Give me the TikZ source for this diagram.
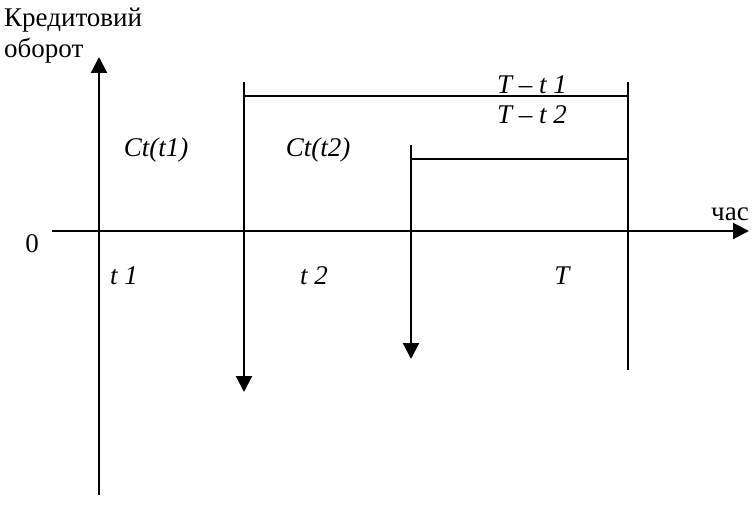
\documentclass[tikz,border=0pt]{standalone}
\usepackage{fontspec}
\setmainfont{Liberation Serif}
\usetikzlibrary{arrows.meta,positioning}

\begin{document}
\begin{tikzpicture}[
  x=1pt, y=-1pt,
  >={Triangle[width=16pt,length=16pt]},
  every node/.style={font=\fontsize{27}{31}\selectfont, inner sep=0pt},
  lbl/.style={anchor=base, font=\fontsize{27}{31}\selectfont\itshape},
  txt/.style={anchor=base west},
  ln/.style={line width=2.1pt},
  arr/.style={->, line width=2.1pt}
]
\useasboundingbox (0,0) rectangle (753,511);

% axes
\coordinate (ybot) at (99,495);
\coordinate (ytop) at (99,57);
\coordinate (xl) at (52,231);
\coordinate (xr) at (749,231);
\draw[arr] (ybot) -- (ytop);
\draw[arr] (xl) -- (xr);

\node[txt] (ylab1) at (4,27) {Кредитовий};
\node[txt] (ylab2) at (4,58) {оборот};
\node[anchor=base] (zero) at (32,252) {0};
\node[txt] (xlab) at (711,220) {час};

% time marks
\coordinate (a1) at (244,82);
\coordinate (a2) at (244,392);
\coordinate (b1) at (411,145);
\coordinate (b2) at (411,359);
\coordinate (c1) at (628,82);
\coordinate (c2) at (628,370);
\coordinate (h1) at (628,96);
\coordinate (h2) at (628,159);
\draw[arr] (a1) -- (a2);
\draw[arr] (b1) -- (b2);
\draw[ln] (c1) -- (c2);
\draw[ln] (a1 |- h1) -- (h1);
\draw[ln] (b1 |- h2) -- (h2);

\node[lbl] (ct1) at (156,156) {Ct(t1)};
\node[lbl] (ct2) at (318,156) {Ct(t2)};
\node[lbl] (dt1) at (532,93) {T – t 1};
\node[lbl] (dt2) at (532,123) {T – t 2};
\node[lbl] (t1) at (124,284) {t 1};
\node[lbl] (t2) at (314,284) {t 2};
\node[lbl] (tT) at (562,284) {T};
\end{tikzpicture}
\end{document}
